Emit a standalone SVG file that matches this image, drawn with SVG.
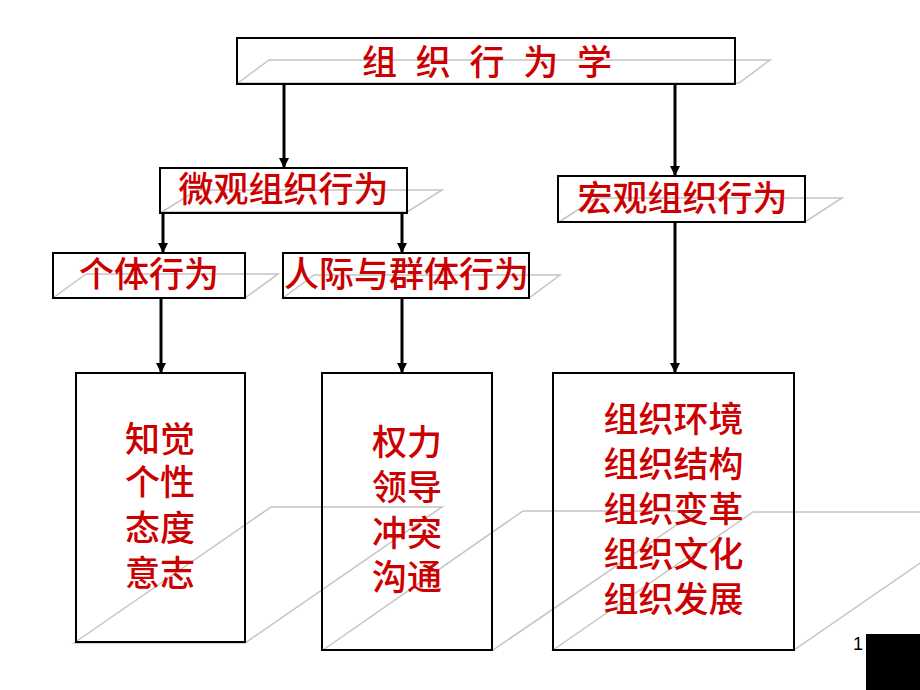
<svg xmlns="http://www.w3.org/2000/svg" width="920" height="690" viewBox="0 0 920 690">
<defs>
<style>
.box{fill:none;stroke:#000;stroke-width:2}
.shadow{fill:none;stroke:#c4c4c4;stroke-width:1.5}
.lbl{font-family:'Liberation Sans','Noto Sans CJK SC',sans-serif;font-size:35px;font-weight:500;fill:#cc0000;text-anchor:middle}
.conn{stroke:#000;stroke-width:3;fill:none;marker-end:url(#arrow)}
</style>
<marker id="arrow" markerUnits="userSpaceOnUse" markerWidth="11" markerHeight="11" refX="10" refY="5.5" orient="auto">
<path d="M0,0.5 L10,5.5 L0,10.5 z" fill="#000"/>
</marker>
</defs>
<rect width="920" height="690" fill="#fff"/>

<g id="node-root">
<polygon class="shadow" points="238,83 269,60 770,60 739,83"/>
<rect class="box" x="237" y="38" width="498" height="46"/>
<text class="lbl" x="362" y="75" style="text-anchor:start" textLength="250" lengthAdjust="spacing" xml:space="preserve">组 织 行 为 学</text>
</g>

<g id="node-micro">
<polygon class="shadow" points="162,212 197,190 442,190 407,212"/>
<rect class="box" x="160" y="168" width="247" height="45"/>
<text class="lbl" x="283.5" y="202">微观组织行为</text>
</g>

<g id="node-macro">
<polygon class="shadow" points="559,222 596,198 842,198 805,222"/>
<rect class="box" x="558" y="176" width="247" height="46"/>
<text class="lbl" x="682.5" y="211">宏观组织行为</text>
</g>

<g id="node-individual">
<polygon class="shadow" points="53,298 86,274 278,274 245,298"/>
<rect class="box" x="53" y="253" width="192" height="45"/>
<text class="lbl" x="149" y="287">个体行为</text>
</g>

<g id="node-group">
<polygon class="shadow" points="283,298 314,275 560,275 529,298"/>
<rect class="box" x="283" y="253" width="246" height="45"/>
<text class="lbl" x="406.5" y="287">人际与群体行为</text>
</g>

<g id="node-individual-topics">
<polygon class="shadow" points="74,643 271,507 442,507 245,643"/>
<rect class="box" x="76" y="373" width="169" height="269"/>
<text class="lbl" x="160" y="452">知觉</text>
<text class="lbl" x="160" y="495">个性</text>
<text class="lbl" x="160" y="541">态度</text>
<text class="lbl" x="160" y="586">意志</text>
</g>

<g id="node-group-topics">
<polygon class="shadow" points="323,650 523,511 697,511 493,650"/>
<rect class="box" x="322" y="373" width="170" height="277"/>
<text class="lbl" x="407" y="455">权力</text>
<text class="lbl" x="407" y="500">领导</text>
<text class="lbl" x="407" y="546">冲突</text>
<text class="lbl" x="407" y="590">沟通</text>
</g>

<g id="node-macro-topics">
<polygon class="shadow" points="553,650 753,512 994,512 794,650"/>
<rect class="box" x="553" y="373" width="241" height="277"/>
<text class="lbl" x="673.5" y="432">组织环境</text>
<text class="lbl" x="673.5" y="477">组织结构</text>
<text class="lbl" x="673.5" y="522">组织变革</text>
<text class="lbl" x="673.5" y="567">组织文化</text>
<text class="lbl" x="673.5" y="612">组织发展</text>
</g>

<g id="connectors">
<line class="conn" x1="284" y1="85" x2="284" y2="168"/>
<line class="conn" x1="675" y1="85" x2="675" y2="176"/>
<line class="conn" x1="163" y1="214" x2="163" y2="253"/>
<line class="conn" x1="402" y1="214" x2="402" y2="253"/>
<line class="conn" x1="161" y1="299" x2="161" y2="373"/>
<line class="conn" x1="402" y1="299" x2="402" y2="373"/>
<line class="conn" x1="675" y1="223" x2="675" y2="373"/>
</g>

<g id="page-marker">
<rect x="866" y="634" width="54" height="56" fill="#000"/>
<text x="863" y="650" font-family="'Liberation Sans',Arial,sans-serif" font-size="18" text-anchor="end" fill="#000">1</text>
</g>
</svg>
